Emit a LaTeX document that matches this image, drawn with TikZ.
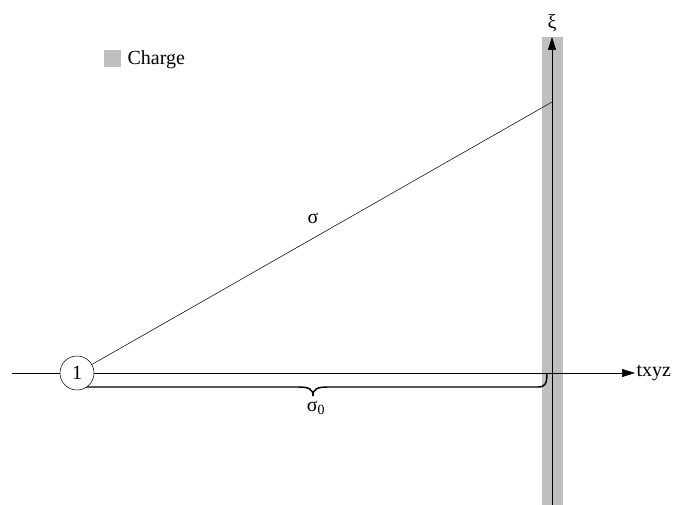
\documentclass[tikz,border=0pt]{standalone}
\usepackage{fontspec}
\setmainfont{Liberation Serif}
\usetikzlibrary{arrows.meta}
\begin{document}
\begin{tikzpicture}[x=0.75pt,y=-0.75pt]
        \tikzstyle{vertex}=[circle, draw, fill=white, minimum size=25.5pt, inner sep=0pt, font=\fontsize{15}{18}\selectfont]
        \tikzstyle{axis}=[-{Triangle[length=9.75pt,width=6pt]}]
        \tikzstyle{lbl}=[font=\fontsize{15}{18}\selectfont, inner sep=1pt]
        \useasboundingbox (0,0) rectangle (676,505);

        % charge band and legend
        \fill[black!25] (542,37) rectangle (563,505);
        \node[fill=black!25, minimum size=12.75pt, inner sep=0pt] (key) at (112.5,59) {};
        \node[lbl, anchor=west] (charge) at (126,60) {Charge};

        \coordinate (left) at (12,373);
        \coordinate (right) at (635,373);
        \coordinate (bottom) at (552,505);
        \coordinate (top) at (552,37);
        \coordinate (hit) at (552,102);

        \draw[axis] (left) -- (right);
        \draw[axis] (bottom) -- (top);
        \node[lbl, anchor=west] (t) at (right) {txyz};
        \node[lbl, anchor=south] (xi) at (552,34) {ξ};

        \draw (77,373) -- (hit);
        % brace under the axis
        \draw[line width=1.1pt] (77,387) -- (298,387)
            .. controls (309,387) and (313,389) .. (313,396)
            .. controls (313,389) and (317,387) .. (328,387) -- (538,387)
            .. controls (545,387) and (547,384) .. (547,373);
        \node[vertex] (n1) at (77,373) {1};

        \node[lbl] (s) at (313,218) {σ};
        \node[lbl] (s0) at (316,408) {σ\textsubscript{0}};
    \end{tikzpicture}
\end{document}
